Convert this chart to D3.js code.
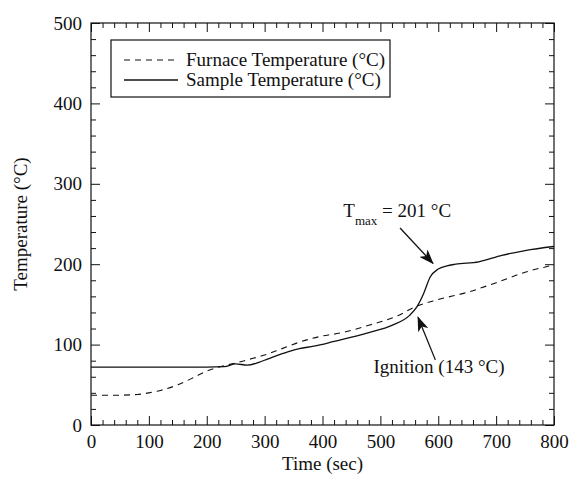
<!DOCTYPE html>
<html>
<head>
<meta charset="utf-8">
<script src="https://cdn.jsdelivr.net/npm/d3@7"></script>
<style>
  body { margin: 0; background: #fff; }
  text { font-family: "Liberation Serif", "Times New Roman", serif; fill: #111; }
</style>
</head>
<body>
<div id="chart"></div>
<script>
// Furnace temperature (dashed)
var furnaceTime = [0, 40, 80, 100, 120, 150, 180, 200, 220, 250, 270, 300, 330, 360, 410, 420, 480, 530, 560, 600, 650, 700, 750, 800];
var furnaceTemp = [37, 37, 38, 40, 43, 50, 60, 67, 72, 77, 81, 87, 95, 103, 112, 113, 124, 136, 147, 156, 165, 177, 190, 199];

// Sample temperature (solid)
var sampleTime = [0, 100, 200, 230, 250, 270, 290, 305, 340, 360, 385, 420, 480, 520, 550, 563, 575, 586, 600, 615, 630, 670, 710, 750, 800];
var sampleTemp = [72, 72, 72, 72.5, 76, 74.5, 78, 82, 91, 95, 98, 104, 115, 124, 136, 147, 164, 184, 194, 198, 200, 203, 211, 217, 222];

var xTicks = [0, 100, 200, 300, 400, 500, 600, 700, 800];
var yTicks = [0, 100, 200, 300, 400, 500];
var legendLabels = ["Furnace Temperature (\u00B0C)", "Sample Temperature (\u00B0C)"];

var width = 570, height = 479;
var margin = {top: 23, right: 16, bottom: 54, left: 91};
var w = width - margin.left - margin.right,
    h = height - margin.top - margin.bottom;

var svg = d3.select("#chart").append("svg")
    .attr("width", width)
    .attr("height", height);

var g = svg.append("g")
    .attr("transform", "translate(" + margin.left + "," + margin.top + ")");

var x = d3.scaleLinear().domain([0, 800]).range([0, w]);
var y = d3.scaleLinear().domain([0, 500]).range([h, 0]);

var minorX = d3.range(0, 801, 20).filter(function(d) { return d % 100 !== 0; });
var minorY = d3.range(0, 501, 20).filter(function(d) { return d % 100 !== 0; });

function styleAxis(sel) {
    sel.select(".domain").remove();
    sel.selectAll("line").attr("stroke", "#111").attr("stroke-width", 1);
    sel.selectAll("text").style("font-size", "19px").style("font-family", "Liberation Serif");
}

// Major ticks, inward, with labels
g.append("g").attr("transform", "translate(0," + h + ")")
    .call(d3.axisBottom(x).tickValues(xTicks).tickSize(-9).tickPadding(10))
    .call(styleAxis);
g.append("g")
    .call(d3.axisLeft(y).tickValues(yTicks).tickSize(-9).tickPadding(9))
    .call(styleAxis);
// Top and right ticks, no labels
g.append("g")
    .call(d3.axisTop(x).tickValues(xTicks).tickSize(-9).tickFormat(""))
    .call(styleAxis);
g.append("g").attr("transform", "translate(" + w + ",0)")
    .call(d3.axisRight(y).tickValues(yTicks).tickSize(-9).tickFormat(""))
    .call(styleAxis);
// Minor ticks
g.append("g").attr("transform", "translate(0," + h + ")")
    .call(d3.axisBottom(x).tickValues(minorX).tickSize(-5).tickFormat(""))
    .call(styleAxis);
g.append("g")
    .call(d3.axisTop(x).tickValues(minorX).tickSize(-5).tickFormat(""))
    .call(styleAxis);
g.append("g")
    .call(d3.axisLeft(y).tickValues(minorY).tickSize(-5).tickFormat(""))
    .call(styleAxis);
g.append("g").attr("transform", "translate(" + w + ",0)")
    .call(d3.axisRight(y).tickValues(minorY).tickSize(-5).tickFormat(""))
    .call(styleAxis);

// Frame
g.append("rect")
    .attr("width", w).attr("height", h)
    .attr("fill", "none").attr("stroke", "#111").attr("stroke-width", 1.2);

// Lines
var line = d3.line()
    .x(function(d) { return x(d[0]); })
    .y(function(d) { return y(d[1]); })
    .curve(d3.curveMonotoneX);

var furnace = furnaceTime.map(function(t, i) { return [t, furnaceTemp[i]]; });
var sample = sampleTime.map(function(t, i) { return [t, sampleTemp[i]]; });

g.append("path").datum(furnace)
    .attr("d", line)
    .attr("fill", "none").attr("stroke", "#111")
    .attr("stroke-width", 1.1).attr("stroke-dasharray", "6,5");

g.append("path").datum(sample)
    .attr("d", line)
    .attr("fill", "none").attr("stroke", "#111")
    .attr("stroke-width", 1.3);

// Legend
var legend = g.append("g").attr("transform", "translate(20,17)");
legend.append("rect")
    .attr("width", 279).attr("height", 57)
    .attr("fill", "#fff").attr("stroke", "#111").attr("stroke-width", 1.2);
legendLabels.forEach(function(lbl, i) {
    var ly = 20 + i * 20;
    legend.append("line")
        .attr("x1", 13).attr("x2", 67).attr("y1", ly).attr("y2", ly)
        .attr("stroke", "#111").attr("stroke-width", i === 0 ? 1.1 : 1.3)
        .attr("stroke-dasharray", i === 0 ? "6,5" : null);
    legend.append("text")
        .attr("x", 75).attr("y", ly + 6)
        .style("font-size", "19px")
        .text(lbl);
});

// Arrow head marker
svg.append("defs").append("marker")
    .attr("id", "arrow")
    .attr("viewBox", "0 0 15 11")
    .attr("refX", 14).attr("refY", 5.5)
    .attr("markerWidth", 15).attr("markerHeight", 11)
    .attr("markerUnits", "userSpaceOnUse")
    .attr("orient", "auto")
    .append("path")
    .attr("d", "M0,0 L15,5.5 L0,11 L4,5.5 Z")
    .attr("fill", "#111");

// Tmax annotation
var tmax = g.append("text")
    .attr("x", x(436)).attr("y", y(259))
    .style("font-size", "19px");
tmax.append("tspan").text("T");
tmax.append("tspan").attr("dy", 8).style("font-size", "13px").text("max");
tmax.append("tspan").attr("dy", -8).text(" = 201 \u00B0C");

g.append("line")
    .attr("x1", x(534)).attr("y1", y(245))
    .attr("x2", x(591)).attr("y2", y(201))
    .attr("stroke", "#111").attr("stroke-width", 1.3)
    .attr("marker-end", "url(#arrow)");

// Ignition annotation
g.append("text")
    .attr("x", x(488)).attr("y", y(65))
    .style("font-size", "19px")
    .text("Ignition (143 \u00B0C)");

g.append("line")
    .attr("x1", x(595)).attr("y1", y(81))
    .attr("x2", x(565)).attr("y2", y(134))
    .attr("stroke", "#111").attr("stroke-width", 1.3)
    .attr("marker-end", "url(#arrow)");

// Axis titles
svg.append("text")
    .attr("x", margin.left + w / 2).attr("y", 470)
    .attr("text-anchor", "middle")
    .style("font-size", "19px")
    .text("Time (sec)");

svg.append("text")
    .attr("transform", "translate(27," + (margin.top + h / 2) + ") rotate(-90)")
    .attr("text-anchor", "middle")
    .style("font-size", "19px")
    .text("Temperature (\u00B0C)");
</script>
</body>
</html>
